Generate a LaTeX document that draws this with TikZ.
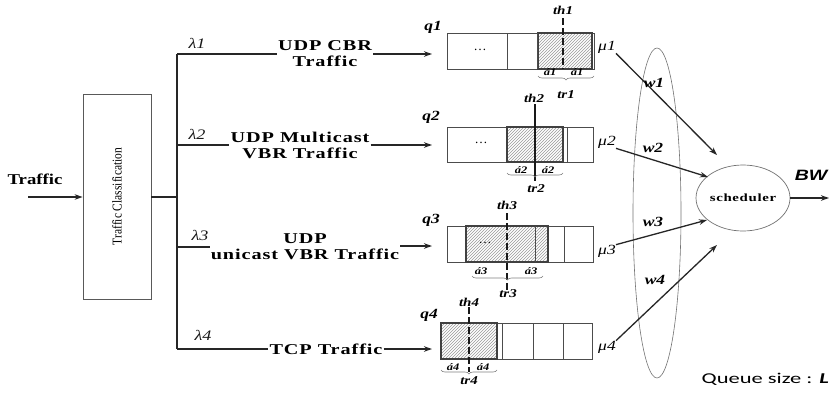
\documentclass[tikz,border=0pt]{standalone}
\usepackage{fontspec}
\setmainfont{Liberation Serif}
\newfontfamily\lblfont[FakeStretch=1.35,LetterSpace=6]{Liberation Serif}
\newfontfamily\wdfont[FakeStretch=1.25]{Liberation Serif}
\newfontfamily\nrfont[FakeStretch=0.85]{Liberation Serif}
\newfontfamily\bwfont[FakeStretch=1.3]{Liberation Sans}
\newfontfamily\qsfont[FakeStretch=1.5]{Carlito}
\usetikzlibrary{arrows.meta,patterns,decorations.pathreplacing,shapes.geometric}
\begin{document}
\begin{tikzpicture}[x=1pt,y=-1pt,
  ln/.style={line width=1.3pt,draw=black!85},
  arr/.style={ln,-{Stealth[length=8pt,width=5.5pt]}},
  qline/.style={draw=black!70,line width=0.9pt},
  hat/.style={pattern=north east lines,pattern color=black!40,draw=black!75,line width=1.7pt},
  thdash/.style={line width=1.6pt,draw=black!90,dash pattern=on 7pt off 3pt},
  thsolid/.style={line width=1.4pt,draw=black!90},
  brc/.style={decorate,decoration={brace,mirror,amplitude=4pt},draw=black!50,line width=0.6pt},
  tlab/.style={font=\lblfont\bfseries\fontsize{15}{16}\selectfont,align=center,inner sep=1pt},
  qlab/.style={font=\wdfont\bfseries\itshape\fontsize{14}{14}\selectfont,inner sep=0pt},
  thlab/.style={font=\wdfont\bfseries\itshape\fontsize{12}{12}\selectfont,inner sep=0pt},
  alab/.style={font=\wdfont\bfseries\itshape\fontsize{10}{10}\selectfont,inner sep=0pt},
  mulab/.style={font=\wdfont\itshape\fontsize{14}{14}\selectfont,inner sep=0pt},
  lamlab/.style={font=\wdfont\itshape\fontsize{14.5}{14.5}\selectfont,text=black!90,inner sep=0pt},
  wlab/.style={font=\wdfont\bfseries\itshape\fontsize{14}{14}\selectfont,inner sep=0pt},
  dotlab/.style={font=\fontsize{13}{13}\selectfont,inner sep=0pt}
]
\useasboundingbox[fill=white] (0,0) rectangle (829,399);

% ---- input and classification
\node[font=\wdfont\bfseries\fontsize{15}{15}\selectfont,inner sep=0pt] (trl) at (35,179) {Traffic};
\node[draw=black!65,line width=0.8pt,minimum width=68pt,minimum height=205pt,inner sep=0pt] (cls) at (117,196.5) {};
\node[rotate=90,font=\nrfont\fontsize{13.5}{14}\selectfont] (clst) at (cls.center) {Traffic Classification};
\coordinate (tin) at (28,197);
\draw[arr] (tin) -- (tin -| cls.west);
\coordinate (j) at (177,197);
\draw[ln] (cls.east |- j) -- (j);

% ---- branches
\coordinate (b1) at (177,54);
\coordinate (b2) at (177,145);
\coordinate (b3) at (177,247);
\coordinate (b4) at (177,349);
\draw[ln] (b1) -- (b4);

\node[tlab] (t1) at (325,54) {UDP CBR\\Traffic};
\node[tlab] (t2) at (300,145) {UDP Multicast\\VBR Traffic};
\node[tlab] (t3) at (305,247) {UDP\\unicast VBR Traffic};
\node[tlab] (t4) at (326,349) {TCP Traffic};

\draw[ln] (b1) -- (t1.west);
\draw[ln] (b2) -- (t2.west);
\draw[ln] (b3) -- (t3.west);
\draw[ln] (b4) -- (t4.west);

\node[lamlab] (l1) at (197,43) {λ1};
\node[lamlab] (l2) at (197,134) {λ2};
\node[lamlab] (l3) at (200,235) {λ3};
\node[lamlab] (l4) at (203,335) {λ4};

% ---- queue 1
\node[qline,minimum width=147pt,minimum height=36pt,inner sep=0pt] (Q1) at (520.5,51) {};
\draw[hat] (538,33) rectangle (592,69);
\draw[qline] (507,33) -- (507,69) (537,33) -- (537,69);
\draw[thdash] (563,18) -- (563,69);
\node[thlab] (th1) at (563,10) {th1};
\node[dotlab] (d1) at (480,50) {\dots};
\node[alab] (a1l) at (550,72) {á1};
\node[alab] (a1r) at (577,72) {á1};
\draw[brc] (538,76) -- (594,76);
\node[thlab] (tr1) at (566,95) {tr1};
\node[qlab] (q1) at (433,27) {q1};
\node[mulab] (m1) at (607,47) {μ1};

% ---- queue 2
\node[qline,minimum width=146pt,minimum height=35pt,inner sep=0pt] (Q2) at (520,144.5) {};
\draw[hat] (507,127) rectangle (563,162);
\draw[qline] (567,127) -- (567,162);
\draw[thsolid] (535,104) -- (535,181);
\node[thlab] (th2) at (534,98) {th2};
\node[dotlab] (d2) at (481,143) {\dots};
\node[alab] (a2l) at (521,170) {á2};
\node[alab] (a2r) at (548,170) {á2};
\draw[brc] (507,173) -- (563,173);
\node[thlab] (tr2) at (536,189) {tr2};
\node[qlab] (q2) at (431,117) {q2};
\node[mulab] (m2) at (607,142) {μ2};

% ---- queue 3
\node[qline,minimum width=146pt,minimum height=36pt,inner sep=0pt] (Q3) at (520,244) {};
\draw[hat] (466,226) rectangle (548,262);
\draw[qline] (535,226) -- (535,262) (564,226) -- (564,262);
\draw[thdash] (507,213) -- (507,290);
\node[thlab] (th3) at (507,205) {th3};
\node[dotlab] (d3) at (485,243) {\dots};
\node[alab] (a3l) at (481,271) {á3};
\node[alab] (a3r) at (531,271) {á3};
\draw[brc] (472,276) -- (543,276);
\node[thlab] (tr3) at (508,294) {tr3};
\node[qlab] (q3) at (431,220) {q3};
\node[mulab] (m3) at (607,251) {μ3};

% ---- queue 4
\node[qline,minimum width=151pt,minimum height=36pt,inner sep=0pt] (Q4) at (516.5,341) {};
\draw[hat] (441,323) rectangle (497,359);
\draw[qline] (502,323) -- (502,359) (533,323) -- (533,359) (563,323) -- (563,359);
\draw[thdash] (469,307) -- (469,372);
\node[thlab] (th4) at (469,302) {th4};
\node[alab] (a4l) at (453,367) {á4};
\node[alab] (a4r) at (483,367) {á4};
\draw[brc] (441,370) -- (497,370);
\node[thlab] (tr4) at (469,381) {tr4};
\node[qlab] (q4) at (429,315) {q4};
\node[mulab] (m4) at (607,347) {μ4};

% ---- arrows into queues
\coordinate (qin) at (432,0);
\draw[arr] (t1.east) -- (t1.east -| qin);
\draw[arr] (t2.east) -- (t2.east -| qin);
\draw[arr] ([yshift=1pt]t3.east) -- ([yshift=1pt]t3.east -| qin);
\draw[arr] (t4.east) -- (t4.east -| qin);

% ---- weights and scheduler
\node[ellipse,draw=black!55,line width=0.6pt,minimum width=48pt,minimum height=330pt,inner sep=0pt] (wg) at (657,213) {};
\node[ellipse,draw=black!55,line width=0.7pt,minimum width=94pt,minimum height=66pt,inner sep=0pt,
      font=\lblfont\bfseries\fontsize{11}{11}\selectfont] (sch) at (743,198) {scheduler};
\coordinate (e1) at (717,155);
\coordinate (e2) at (708,177);
\coordinate (e3) at (707,220);
\coordinate (e4) at (717,245);
\draw[arr] (m1.south east) -- (e1);
\draw[arr] (m2.south east) -- (e2);
\draw[arr] (m3.north east) -- (e3);
\draw[arr] (m4.north east) -- (e4);
\node[wlab] (w1) at (654,83) {w1};
\node[wlab] (w2) at (653,148) {w2};
\node[wlab] (w3) at (653,222) {w3};
\node[wlab] (w4) at (655,280) {w4};

\coordinate (bwend) at (829,198);
\draw[arr] (sch.east) -- (bwend);
\node[font=\bwfont\bfseries\itshape\fontsize{15}{15}\selectfont,inner sep=0pt] (bw) at (811,175) {BW};

\node[font=\qsfont\fontsize{15}{15}\selectfont,inner sep=0pt,anchor=east] (qs) at (829,379) {Queue size : \textbf{\textit{L}}};
\end{tikzpicture}
\end{document}
